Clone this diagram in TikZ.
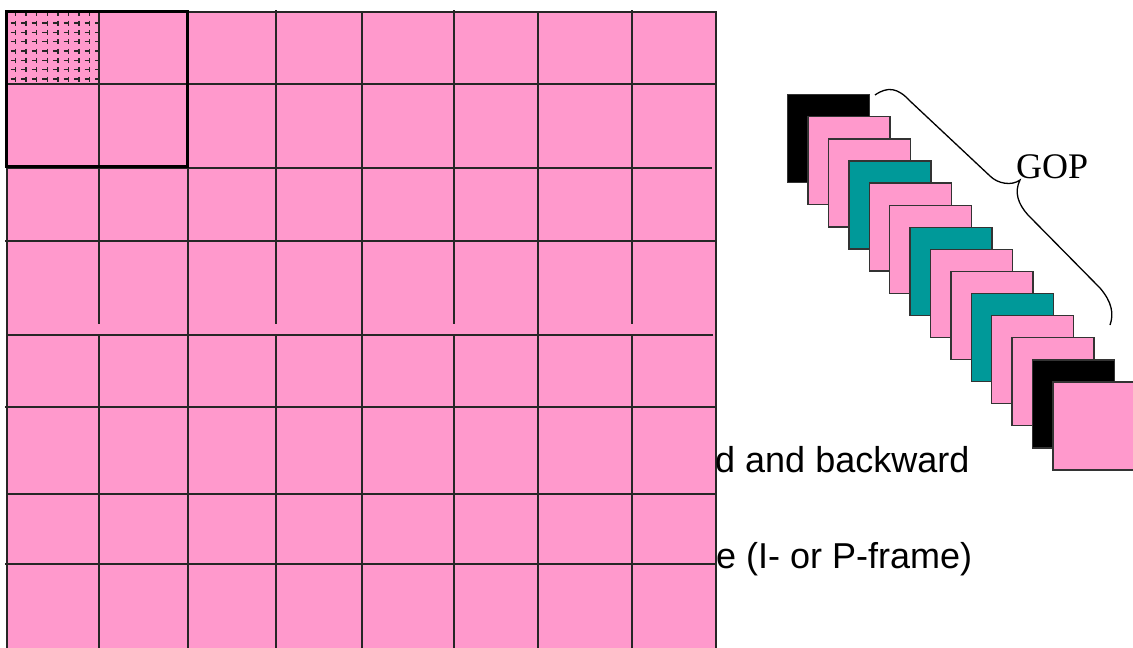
\documentclass[tikz,border=0pt]{standalone}
\usepackage{fontspec}
\usetikzlibrary{positioning}
\newfontfamily\arialf{Liberation Sans}
\newfontfamily\timesf{Liberation Serif}
\definecolor{mbpink}{HTML}{FF99CC}
\definecolor{mbteal}{HTML}{009999}

\begin{document}
\begin{tikzpicture}[x=1pt, y=-1pt,
  frm/.style={rectangle, draw=black!80, line width=1.3pt, minimum width=82pt,
              minimum height=88pt, inner sep=0pt, anchor=north west},
  gline/.style={line width=1.4pt, black!85},
  fine/.style={line width=1.3pt, black!85},
  lbl/.style={inner sep=0pt, anchor=base west, font=\arialf\fontsize{36}{43}\selectfont}]
  \clip (0,0) rectangle (1133,648);
  % frame split into macroblocks
  \fill[mbpink] (7,12) rectangle (716,650);
  \foreach \gx in {188,362,538} \draw[gline] (\gx,12) -- (\gx,648);
  \foreach \gx in {99,276,454,632} {
    \draw[gline] (\gx,10) -- (\gx,324);
    \draw[gline] (\gx,335) -- (\gx,648);
  }
  \foreach \gy/\ga/\gb in {84/7/716, 168/7/712, 241/5/716, 335/7/713,
                           407/5/716, 494/8/716, 564/5/716}
    \draw[gline] (\ga,\gy) -- (\gb,\gy);
  \draw[gline] (7,648) -- (7,12) -- (716,12) -- (716,648);
  % pixels of the first block
  \foreach \i in {0,...,7}
    \draw[fine, dash pattern=on 5pt off 4.35pt] ({15.5+10.6*\i},11.2) -- ({15.5+10.6*\i},84);
  \foreach \j in {0,...,6}
    \draw[fine, dash pattern=on 5pt off 5.6pt] (10.5,{23+9.35*\j}) -- (99,{23+9.35*\j});
  \draw[line width=3.8pt] (6.5,11.5) rectangle (187.5,166.5);
  % text behind the frame
  \node[lbl] (fwd) at (715,472) {d and backward};
  \node[lbl] (ref) at (716,568) {e (I- or P-frame)};
  % group of pictures
  \foreach \c [count=\i] in {black,mbpink,mbpink,mbteal,mbpink,mbpink,mbteal,
                             mbpink,mbpink,mbteal,mbpink,mbpink,black,mbpink}
    \node[frm, fill=\c] (f\i) at ({787+20.4*(\i-1)},{94+22.1*(\i-1)}) {};
  \coordinate (bs) at (875,95);
  \coordinate (be) at (1110,325);
  \draw[line width=1.3pt] (bs) .. controls (888,86) and (898,88) .. (910,101)
    -- (990,176) .. controls (998,184) and (1012,186) .. (1020,180)
    .. controls (1014,192) and (1018,204) .. (1028,215)
    -- (1100,288) .. controls (1112,302) and (1114,314) .. (be);
  \node[inner sep=0pt, anchor=base west, font=\timesf\fontsize{36}{43}\selectfont] (gop) at (1016,178) {GOP};
\end{tikzpicture}
\end{document}
